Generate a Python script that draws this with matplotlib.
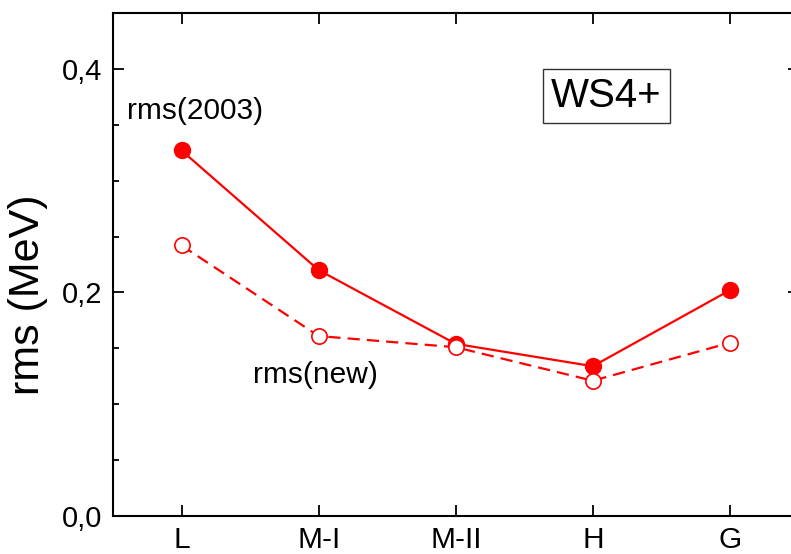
import matplotlib
matplotlib.use("Agg")
import matplotlib.pyplot as plt
from matplotlib.ticker import MultipleLocator, FuncFormatter

categories = ["L", "M-I", "M-II", "H", "G"]
rms_2003 = [0.327, 0.220, 0.154, 0.134, 0.202]
rms_new = [0.242, 0.161, 0.151, 0.121, 0.155]

plt.rcParams['font.family'] = ['Liberation Sans', 'DejaVu Sans']

fig = plt.figure(figsize=(7.91, 5.54), dpi=100)
ax = fig.add_axes([113/791, 38/554, 685.5/791, 503/554])

x = list(range(1, len(categories) + 1))
red = '#ff0000'
ax.plot(x, rms_2003, '-', color=red, lw=1.6, marker='o', ms=11.5,
        mfc=red, mec=red, zorder=3)
ax.plot(x, rms_new, '--', color=red, lw=1.6, marker='o', ms=11,
        mfc='white', mec=red, mew=1.2, dashes=(5.5, 3.2), zorder=3)

ax.set_xlim(0.5, 5.5)
ax.set_ylim(0.0, 0.45)
ax.set_xticks(x)
ax.set_xticklabels(categories)
ax.yaxis.set_major_locator(MultipleLocator(0.2))
ax.yaxis.set_minor_locator(MultipleLocator(0.05))
ax.yaxis.set_major_formatter(FuncFormatter(lambda v, p: f"{v:.1f}".replace('.', ',')))

ax.tick_params(axis='both', which='both', direction='in', top=True, right=True,
               width=1.3, colors='black')
ax.tick_params(axis='y', which='major', length=8, labelsize=21, pad=8)
ax.tick_params(axis='y', which='minor', length=4.5)
ax.tick_params(axis='x', which='major', length=8, labelsize=21.5, pad=7)
for s in ax.spines.values():
    s.set_linewidth(1.5)

ax.set_ylabel("rms (MeV)", fontsize=31)
ax.yaxis.set_label_coords(-0.095, 0.44)

ax.text(0.602, 0.355, "rms(2003)", fontsize=21.5, ha='left', va='baseline')
ax.text(1.522, 0.119, "rms(new)", fontsize=21.5, ha='left', va='baseline')
ax.text(4.10, 0.3755, "WS4+", fontsize=29, ha='center', va='center',
        bbox=dict(boxstyle='square,pad=0.2', fc='white', ec='#333333', lw=1.0))

fig.savefig("out.png", dpi=100)
